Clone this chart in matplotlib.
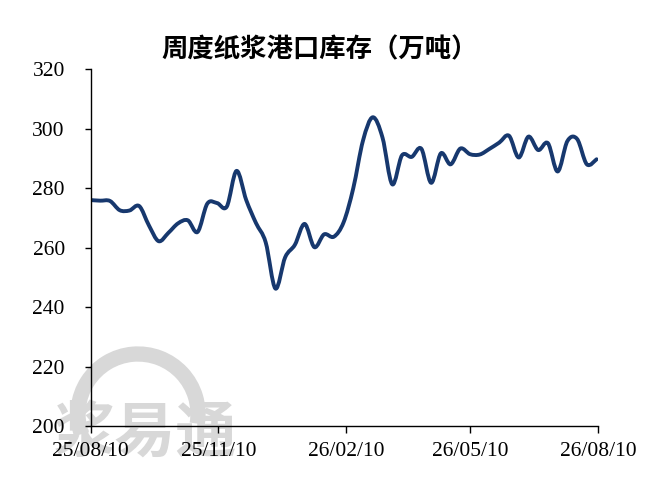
import matplotlib
matplotlib.use('Agg')
import matplotlib.pyplot as plt
import matplotlib.dates as mdates
from matplotlib.path import Path
from matplotlib.patches import PathPatch, Arc
import numpy as np
import pandas as pd

# weekly port inventory (10k tonnes)
dates = pd.date_range('2025-08-10', periods=53, freq='7D')
stock = [276, 275.8, 275.7, 272.6, 272.5, 274, 267.5, 262.2, 265, 268.2,
         269.2, 265.3, 274.8, 275.0, 273.8, 285.8, 276, 268.3, 261.8, 246.3,
         256.8, 261, 268, 260.2, 264.5, 263.7, 268.5, 280, 296, 303.8,
         297, 281.3, 291, 290.5, 293.2, 281.8, 291.7, 288, 293.3, 291.4,
         291.3, 293.2, 295.3, 297.6, 290.3, 297.3, 292.8, 295.1, 285.6, 295.8,
         296.5, 288, 289.7]
tick_dates = ['2025-08-10', '2025-11-10', '2026-02-10', '2026-05-10', '2026-08-10']
title = '周度纸浆港口库存（万吨）'

line_color = '#17386e'

fig = plt.figure(figsize=(6.48, 4.95), dpi=100)
ax = fig.add_axes([0.1397, 0.1384, 0.7831, 0.7222])
ax.patch.set_alpha(0)

# watermark logo (light grey, behind everything)
fig.text(145 / 648, 1 - 434 / 495, '浆易通', fontsize=44, fontweight='bold',
         color='#d8d8d8', family=['Noto Sans CJK SC', 'DejaVu Sans'],
         ha='center', va='center', zorder=-2)
fig.add_artist(Arc((138 / 648, 1 - 414 / 495), 120 / 648, 120 / 495,
                   theta1=-12, theta2=205, lw=11, color='#d8d8d8',
                   transform=fig.transFigure, zorder=-3))

# smoothed line (Excel-like bezier through the points)
x = mdates.date2num(dates)
y = np.array(stock, dtype=float)
n = len(x)
verts = [(x[0], y[0])]
codes = [Path.MOVETO]
for i in range(n - 1):
    i0 = max(i - 1, 0)
    i3 = min(i + 2, n - 1)
    c1 = (x[i] + (x[i + 1] - x[i0]) / 6, y[i] + (y[i + 1] - y[i0]) / 6)
    c2 = (x[i + 1] - (x[i3] - x[i]) / 6, y[i + 1] - (y[i3] - y[i]) / 6)
    verts += [c1, c2, (x[i + 1], y[i + 1])]
    codes += [Path.CURVE4] * 3
ax.add_patch(PathPatch(Path(verts, codes), facecolor='none', edgecolor=line_color,
                       lw=2.8, capstyle='round', joinstyle='round'))

ax.set_xlim(mdates.date2num(pd.Timestamp(tick_dates[0])),
            mdates.date2num(pd.Timestamp(tick_dates[-1])))
ax.set_ylim(200, 320)
ax.set_yticks(range(200, 321, 20))
ax.set_xticks(mdates.date2num(pd.to_datetime(tick_dates)))
ax.xaxis.set_major_formatter(mdates.DateFormatter('%y/%m/%d'))

for s in ['top', 'right']:
    ax.spines[s].set_visible(False)
for s in ['left', 'bottom']:
    ax.spines[s].set_linewidth(1.0)

ax.tick_params(axis='y', direction='out', length=4.5, width=1.0, pad=14)
ax.tick_params(axis='x', direction='out', length=5, width=1.0, pad=6)
for lab in ax.get_xticklabels() + ax.get_yticklabels():
    lab.set_family('Liberation Serif')
    lab.set_fontsize(15.5)

fig.text(320 / 648, 1 - 50 / 495, title, fontsize=19, fontweight='bold',
         family=['Noto Sans CJK SC', 'DejaVu Sans'], ha='center', va='center')

fig.savefig('out.png', dpi=100)
